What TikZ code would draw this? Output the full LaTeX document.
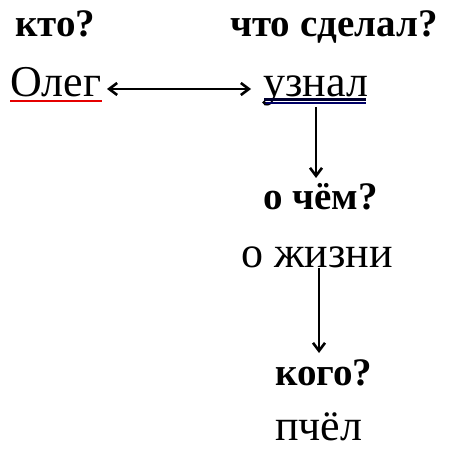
\documentclass[tikz,border=0pt]{standalone}
\usepackage{fontspec}
\setmainfont{Liberation Serif}
\usetikzlibrary{arrows.meta}
\begin{document}
\begin{tikzpicture}[x=1bp,y=-1bp,
  q/.style={anchor=base west,inner sep=0pt,font=\fontsize{39bp}{44bp}\selectfont\bfseries},
  w/.style={anchor=base west,inner sep=0pt,font=\fontsize{44bp}{50bp}\selectfont},
  arr/.style={line width=2.6bp,-{Straight Barb[length=8bp,width=12bp,line width=2.6bp]}},
  darr/.style={line width=2.6bp,{Straight Barb[length=8bp,width=12bp,line width=2.6bp]}-{Straight Barb[length=8bp,width=12bp,line width=2.6bp]}}]
\useasboundingbox[fill=white] (0,0) rectangle (450,449);
\node[q] (kto) at (15,37) {кто?};
\node[q] (chto) at (230,37) {что сделал?};
\node[w] (oleg) at (10,97) {Олег};
\node[w] (uznal) at (263,97) {узнал};
\node[q] (ochem) at (263,210) {о чём?};
\node[w] (zhizni) at (241,267) {о жизни};
\node[q] (kogo) at (275,385) {кого?};
\node[w] (pchel) at (275,440) {пчёл};
% underlines
\draw[red!90!black,line width=2.4bp] (10,101) -- (102,101);
\draw[black!70!blue!60!black,line width=2.2bp] (264,99.5) -- (366,99.5);
\draw[black!60!blue,line width=1.5bp] (264,103) -- (366,103);
\fill[black] (264,102.5) circle (1.8bp);
% connectors
\coordinate (a1) at (107,89);
\coordinate (a2) at (251,89);
\draw[darr] (a1) -- (a2);
\coordinate (b1) at (316,107);
\coordinate (b2) at (316,178);
\draw[arr] (b1) -- (b2);
\coordinate (c1) at (319,268);
\coordinate (c2) at (319,353);
\draw[arr] (c1) -- (c2);
\end{tikzpicture}
\end{document}
